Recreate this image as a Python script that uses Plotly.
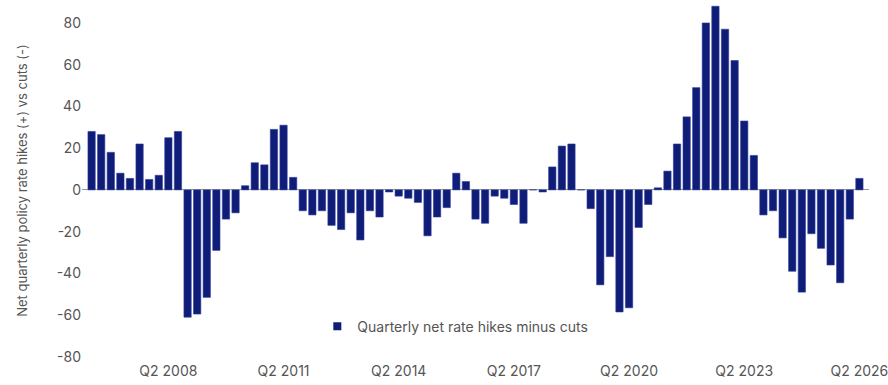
import plotly.graph_objects as go

# Quarters Q2 2006 .. Q2 2026
quarters = []
y, q = 2006, 2
while (y, q) <= (2026, 2):
    quarters.append(f"Q{q} {y}")
    q += 1
    if q > 4:
        q = 1
        y += 1

net_hikes = [
    28, 26.5, 18, 8, 5.5, 22, 5, 7, 25, 28,
    -61, -59.5, -51.5, -29, -14, -11,
    2, 13, 12, 29, 31, 6,
    -10, -12, -10, -17, -19, -11, -24, -10, -13, -1, -3, -4, -6, -22, -13, -8.5,
    8, 4,
    -14, -16, -3, -4, -7, -16, 0, -1,
    11, 21, 22, 0,
    -9, -45.5, -32, -58.5, -56.5, -18, -7,
    1, 9, 22, 35, 49, 80, 88, 77, 62, 33, 16.5,
    -12, -10, -23, -39, -49, -21, -28, -36, -44.5, -14,
    5.5,
]

tick_labels = ["Q2 2008", "Q2 2011", "Q2 2014", "Q2 2017", "Q2 2020", "Q2 2023", "Q2 2026"]
y_ticks = [-80, -60, -40, -20, 0, 20, 40, 60, 80]
y_tick_text = ["-80", "-60", "-40", "-20", "0", "20", "40", "60", "80"]

series_name = "Quarterly net rate hikes minus cuts"
bar_color = "#0f1d78"

fig = go.Figure()
fig.add_trace(go.Bar(
    x=quarters,
    y=net_hikes,
    name=series_name,
    showlegend=False,
    marker=dict(color=bar_color, line=dict(color="#2b3c95", width=0.6)),
))
# legend entry with a small square swatch
fig.add_trace(go.Scatter(
    x=[None], y=[None], mode="markers", name=series_name,
    marker=dict(symbol="square", size=8, color=bar_color),
))

fig.update_layout(
    width=888,
    height=385,
    margin=dict(l=82, r=19, t=0, b=24),
    paper_bgcolor="white",
    plot_bgcolor="white",
    font=dict(family="Inter, Open Sans, sans-serif", size=13, color="#555555"),
    bargap=0.24,
    showlegend=True,
    legend=dict(
        x=0.299, y=0.095, xanchor="left", yanchor="middle",
        bgcolor="rgba(0,0,0,0)",
        font=dict(size=14, color="#555555"),
        itemwidth=30,
    ),
    xaxis=dict(
        type="category",
        range=[-1, 81],
        tickmode="array",
        tickvals=tick_labels,
        ticktext=tick_labels,
        showgrid=False,
        showline=False,
        ticks="",
        zeroline=False,
        tickfont=dict(size=14, color="#555555"),
    ),
    yaxis=dict(
        range=[-82, 91],
        tickmode="array",
        tickvals=y_ticks,
        ticktext=y_tick_text,
        showgrid=False,
        zeroline=True,
        zerolinecolor="#9a9a9a",
        zerolinewidth=1,
        ticks="",
        tickfont=dict(size=14, color="#555555"),
        title=dict(text="Net quarterly policy rate hikes (+) vs cuts (-)",
                   font=dict(size=13, color="#555555"), standoff=26),
    ),
)

fig.write_html("out.html")
